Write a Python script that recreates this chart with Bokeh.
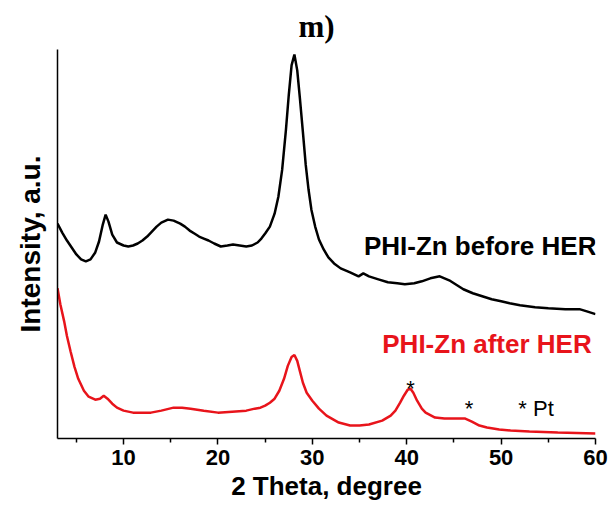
from bokeh.plotting import figure
from bokeh.models import Range1d, FixedTicker, ColumnDataSource
from bokeh.core.properties import value
from bokeh.embed import file_html
from bokeh.resources import INLINE

# Black curve: PHI-Zn before HER (2theta, intensity a.u.)
before_x = [3, 3.5, 4, 4.5, 5, 5.5, 6, 6.5, 7, 7.4, 7.8, 8.1, 8.4, 8.8, 9.3, 10, 10.5, 11,
            11.5, 12, 12.5, 13, 13.5, 14, 14.7, 15.3, 16, 16.5, 17, 17.5, 18, 18.5, 19,
            19.6, 20.3, 21, 21.6, 22.3, 23, 23.6, 24.2, 24.6, 25, 25.5, 26, 26.4, 26.8,
            27.2, 27.5, 27.8, 28.1, 28.4, 28.7, 29, 29.3, 29.6, 29.9, 30.3, 30.7, 31.2,
            31.7, 32.3, 33, 34, 34.9, 35.4, 36, 37, 38, 39, 39.8, 40.8, 41.6, 42.5, 43.5,
            44, 44.5, 45, 45.5, 46, 47, 48, 49, 50, 50.9, 52, 53.6, 55, 56.8, 58.3, 59, 60]
before_y = [216, 207, 199, 192, 185, 180, 178, 180, 187, 198, 215, 225, 218, 205, 197, 194,
            193, 194, 196, 199, 203, 208, 213, 217, 220, 219, 216, 213, 209, 206, 203, 201,
            199, 196, 193, 194, 195, 194, 193, 194, 197, 201, 206, 213, 226, 243, 270,
            310, 345, 375, 386, 370, 340, 308, 275, 250, 230, 213, 200, 190,
            182, 176, 171, 167, 163, 166, 163, 160, 157, 156, 155, 156, 158, 161, 163,
            161, 159, 156, 153, 150, 146, 143, 140, 138, 136, 134, 132, 131, 130, 130, 128, 125]

# Red curve: PHI-Zn after HER
after_x = [3, 3.3, 3.7, 4, 4.4, 4.8, 5.2, 5.8, 6.3, 7, 7.5, 7.9, 8.3, 8.8, 9.3, 10, 11, 12,
           12.9, 14, 15.3, 16.2, 17.1, 18.5, 20, 21.5, 23, 23.9, 24.5, 25, 25.5, 26, 26.5,
           27, 27.4, 27.8, 28.1, 28.4, 28.7, 29, 29.4, 30, 30.7, 31.5, 32.8, 34, 35, 36,
           37.4, 38.3, 38.8, 39.3, 39.7, 40.1, 40.4, 40.7, 41.1, 41.6, 42, 43, 44, 45,
           46.2, 46.9, 47.7, 48.5, 49.8, 51, 53, 56, 58, 60]
after_y = [151, 135, 118, 103, 87, 72, 60, 48, 42, 39, 40, 43, 40, 35, 31, 28, 26, 26,
           26, 28, 31, 31, 30, 28, 26, 27, 28, 30, 31, 33, 36, 40, 48,
           60, 73, 82, 84, 78, 67, 56, 46, 38, 30, 23, 16, 13, 13, 14,
           18, 23, 28, 36, 43, 49, 50, 46, 38, 30, 26, 21, 20, 20,
           20, 17, 13, 11, 9, 8, 7, 6, 5.5, 5]

x_ticks = [10, 20, 30, 40, 50, 60]
x_minor = [5, 15, 25, 35, 45, 55]

# annotations
label_text = ["PHI-Zn before HER", "PHI-Zn after HER"]
label_x = [60.1, 59.6]
label_y = [193, 95]
label_color = ["black", "#e8141b"]

star_text = ["*", "*", "* Pt"]
star_x = [40.4, 46.6, 53.7]
star_y = [50, 30, 30]

p = figure(width=610, height=507, output_backend="svg", toolbar_location=None,
           x_range=Range1d(3, 60), y_range=Range1d(0, 391),
           min_border_left=57, min_border_right=15, min_border_top=47, min_border_bottom=69)

p.title.text = "m)"
p.title.align = "left"
p.title.offset = 241
p.title.standoff = 12
p.title.text_font = "Liberation Serif"
p.title.text_font_style = "bold"
p.title.text_font_size = "31px"
p.title.text_color = "black"

p.line(before_x, before_y, line_color="black", line_width=2.5)
p.line(after_x, after_y, line_color="#e8141b", line_width=2.5)

src = ColumnDataSource(dict(x=label_x, y=label_y, t=label_text, c=label_color))
p.text(x="x", y="y", text="t", text_color="c", source=src, text_align="right",
       text_baseline="middle", text_font=value("Liberation Sans"),
       text_font_style="bold", text_font_size="26px")

src2 = ColumnDataSource(dict(x=star_x, y=star_y, t=star_text))
p.text(x="x", y="y", text="t", source=src2, text_align="center",
       text_baseline="middle", text_font=value("Liberation Sans"),
       text_font_size="22px", text_color="black")

p.grid.visible = False
p.outline_line_color = None

p.xaxis.ticker = FixedTicker(ticks=x_ticks, minor_ticks=x_minor)
p.xaxis.axis_label = "2 Theta, degree"
p.xaxis.axis_label_text_font = "Liberation Sans"
p.xaxis.axis_label_text_font_style = "bold"
p.xaxis.axis_label_text_font_size = "26px"
p.xaxis.axis_label_text_color = "black"
p.xaxis.axis_label_standoff = 3
p.xaxis.major_label_text_font = "Liberation Sans"
p.xaxis.major_label_text_font_style = "bold"
p.xaxis.major_label_text_font_size = "22px"
p.xaxis.major_label_text_color = "black"
p.xaxis.major_label_standoff = 5
p.xaxis.major_tick_in = 0
p.xaxis.major_tick_out = 6
p.xaxis.minor_tick_in = 0
p.xaxis.minor_tick_out = 4
p.xaxis.axis_line_width = 1.5
p.xaxis.axis_line_color = "black"
p.xaxis.major_tick_line_width = 1.5
p.xaxis.minor_tick_line_width = 1.5
p.xaxis.major_tick_line_color = "black"
p.xaxis.minor_tick_line_color = "black"

p.yaxis.ticker = FixedTicker(ticks=[])
p.yaxis.axis_label = "Intensity, a.u."
p.yaxis.axis_label_text_font = "Liberation Sans"
p.yaxis.axis_label_text_font_style = "bold"
p.yaxis.axis_label_text_font_size = "28px"
p.yaxis.axis_label_text_color = "black"
p.yaxis.axis_label_standoff = 12
p.yaxis.axis_line_width = 1.5
p.yaxis.axis_line_color = "black"
p.yaxis.major_tick_line_color = None
p.yaxis.minor_tick_line_color = None

open("out.html", "w").write(file_html(p, INLINE))
